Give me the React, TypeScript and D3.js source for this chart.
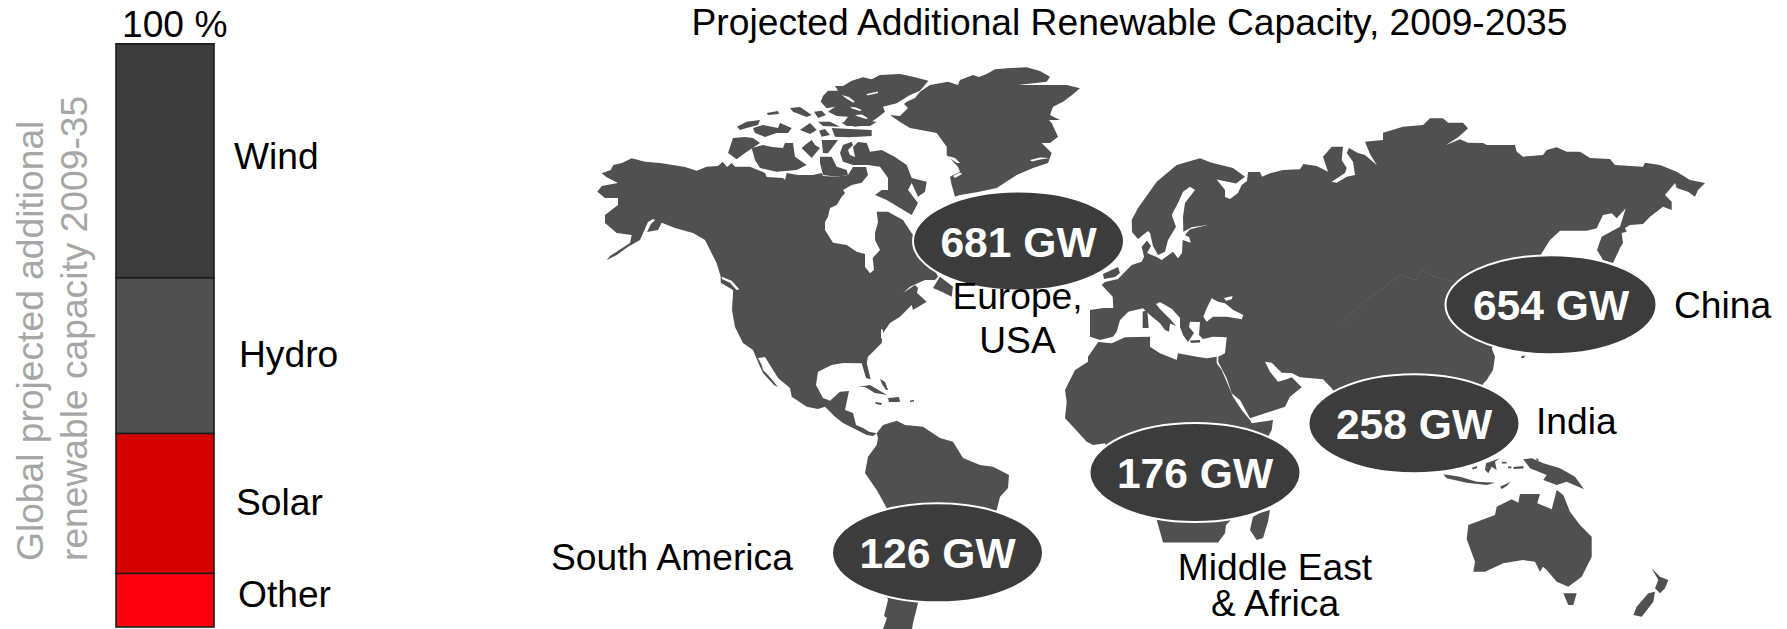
import React from "react";
import * as d3 from "d3";

// Share of global projected additional renewable capacity, in percent, bottom to top
const technologies = ["Other", "Solar", "Hydro", "Wind"];
const technologyShares = [9.2, 24.0, 26.7, 40.1];

// Regional additions, in GW
const regionCapacity = [681, 654, 258, 176, 126];
const regionNames = [["Europe,", "USA"], ["China"], ["India"], ["Middle East", "& Africa"], ["South America"]];

type Ring = [number, number][];

// Land outlines, in map units
const northAmerica: Ring = [[601.7,173.3],[610.7,170],[613.3,165],[622,163],[631.7,158.3],[645,161.7],[660,163],[673,165],[685,167],[696.7,170.7],[706.7,166.7],[718,166],[722.7,161.7],[727,167],[731.7,163],[735,166.7],[750,166.7],[765,173],[766.7,177],[783,178],[785,180],[786.7,173],[798,175],[813,175],[821.7,173],[823,176],[836.7,176.7],[848,175],[853,167],[866,167],[868,175],[861.7,182.7],[851.7,185],[843,190],[845,193],[841.7,196.7],[836.7,205],[830,208],[828,216.7],[825,222],[825,230],[833,242.7],[846.7,245],[856.7,251.7],[865,254],[865,266.7],[870,273.3],[874,270],[872.7,258],[880,250],[875,240],[875,233],[878,222],[876.7,211.7],[888,211.7],[903,220],[911.7,233.3],[925,250],[938,276.7],[935,280],[925,280],[910,286.7],[903,293],[915,285],[918,288],[917,293],[926.7,301.7],[913,310],[911.7,305],[900,316.7],[890,323],[883,333],[881.7,343],[868,356.7],[866.7,363],[870.7,379.3],[866,378],[861.7,363.3],[843,363],[831.7,365],[818,371.7],[816,385],[823,398],[830,400.7],[840,391.7],[849,391],[845,410],[853,413],[856,425],[863,428],[869,431.7],[876.7,433.3],[873,436],[866.7,435],[855,429],[843,423],[835,416.7],[825,406.7],[818,409],[806.7,406.7],[791.7,396.7],[790,388],[778,378],[765,357],[758,358],[761.7,365],[763,370],[768,375],[778,387],[774,385],[763,373],[758,362],[753,350],[743,343],[735,327],[732,310],[733,293.3],[733,290],[720.7,282.7],[720.7,276.7],[716.7,263.3],[705,240],[693,233],[675,228],[661.7,222.7],[658,230],[647,232],[651,224],[655,220],[653,219],[648,222],[644,231],[640,240],[628,246.7],[616.7,255],[606.7,260],[610,256],[630,243],[631.7,235],[616.7,233],[605,223],[605,215],[618,205],[618,198],[605,198],[597.3,191.7],[601.7,186],[618,183],[606.7,177.3]];
const greenland: Ring = [[930,85],[948,81.7],[958,85],[960,80],[973,75],[979,77],[986.7,74],[995,69.3],[1010,68],[1026.7,67.3],[1040,71],[1050,76.7],[1046.7,81.7],[1018,85],[1045,85],[1066.7,85],[1080,88.3],[1072,95],[1063,101.7],[1053,106.7],[1050,115],[1060,120],[1049,120],[1055,127],[1051.7,123],[1058,136.7],[1050,143],[1041.7,143],[1051.7,153],[1048,163],[1033,168],[1016.7,175],[996.7,188],[978,192],[960,195],[955,196.7],[951.7,185],[950,176.7],[960,171.7],[958,166.7],[946.7,155],[946.7,146.7],[936.7,133],[910,128],[900,122],[890,115],[900,116],[908,108],[904,104],[906.7,101.7],[915,98],[920,91.7]];
const arcticIslands: Ring[] = [
  [[928.3,80.7],[913,76.7],[900,74],[880,75],[871.7,79.3],[863,77.3],[851.7,80.7],[843,86],[835,86],[838,90.7],[828,90.7],[823,96],[820.7,101.7],[826.7,108.3],[835,106.7],[828,111.7],[836.7,116],[848,116.7],[843,123.3],[855,126.7],[866.7,125],[876.7,118.3],[885,111.7],[883,106.7],[896.7,103.3],[910,95],[920,90.7]],
  [[733,138],[745,137],[753,138],[760,143],[745,153],[736.7,159.3],[728,153]],
  [[751.7,148],[763,145],[772,147],[783,148],[785,143],[793,143],[795,156.7],[806.7,165],[796.7,170],[776.7,171.7],[760,168],[755,160]],
  [[801.7,148.3],[805,145],[811.7,140],[815,145],[820,148],[811.7,158],[806.7,153]],
  [[821.7,140],[838,140],[828,153.3],[823,153]],
  [[820,156.7],[831.7,156.7],[836.7,166.7],[846.7,170],[848,175],[836.7,176.7],[823,175],[820,163]],
  [[840,153],[843,145],[851.7,141.7],[853,145],[848,150],[850,155],[855,157],[853,147],[858,142],[866.7,143],[870,151.7],[881.7,150],[895,157],[906.7,165],[911.7,178],[926.7,181.7],[925,191.7],[918,196.7],[911.7,183],[908,190],[918,203],[911.7,215],[900,208],[886.7,200],[875,195],[881.7,190],[888,190],[888,178],[880,166.7],[868,165],[853,165],[843,161.7]],
  [[766.7,113],[778,111],[779,114],[768,115]],
  [[790,108],[800,107],[811.7,115],[806.7,117],[793,111.7]],
  [[814,111.7],[821.7,110.7],[826,115],[818,118]],
  [[737,126.7],[746.7,121.7],[760,120],[758,125],[746.7,128],[740,130]],
  [[753,128],[763,125],[778,128],[780,123],[791.7,128],[788,133],[776.7,133],[765,137],[755,133]],
  [[800,130],[810,123],[816.7,130],[810,134]],
  [[819,130.7],[825,129],[830,135],[821.7,136.7]],
  [[831.7,128],[850,129],[871.7,130],[871.7,136],[850,137.3],[835,136.7]],
  [[818,121.7],[830,121.7],[840,126.7],[823,126]],
  [[841.7,122.7],[856.7,120],[876.7,121.7],[870,126],[846.7,126]],
  [[933,288],[940,276.7],[953,286.7],[951.7,296.7],[941.7,291.7]],
];
const caribbean: Ring[] = [
  [[858,387],[870,385],[887,395],[875,393],[865,387]],
  [[880,379],[885,382],[888,390],[886,390],[882,384]],
  [[888,398],[899,397],[900,402],[889,402]],
  [[875,402],[882,403],[881,405],[876,404]],
  [[910,400.5],[914,400],[914,401.5],[910,402]],
];
const southAmerica: Ring = [[876.7,433.3],[883,425],[896.7,420.7],[905,425],[923,426.7],[940,438],[953,441.7],[963,458],[980,465],[993,466.7],[1009,475],[1008,488],[1000,496.7],[996.7,510],[960,560],[918,603],[913,623],[912,629],[883,629],[887,618],[884,616],[888,600],[870,540],[886.7,508],[876.7,490],[865,473],[868,456.7],[876.7,445],[878,438]];
const eurasia: Ring = [[1100,340],[1090,336.7],[1090,310],[1103,308],[1113.3,308],[1112.7,296.7],[1101.7,285],[1105,282],[1118,279],[1131.7,265],[1141.7,261.7],[1144,256.7],[1141.7,246.7],[1147,240.5],[1151,246],[1147,253],[1156.7,257],[1161.7,260],[1173,251.7],[1178,258.3],[1182,253],[1182.7,240],[1190.7,242.7],[1189.3,237.3],[1185,235],[1190,229.3],[1207.3,225],[1191.7,227.3],[1183.3,231.7],[1183,216.7],[1185,203],[1195,190],[1190,186.7],[1183,191.7],[1178,203],[1171.7,215],[1176,226.7],[1168,240],[1165,251.7],[1158,255],[1153,246],[1150,233],[1148,231],[1138,239],[1132,232],[1131.7,220],[1138,208],[1156.7,181.7],[1176.7,165],[1200,158.3],[1211.7,162.7],[1233,168],[1245,176.7],[1236,183.5],[1216.7,179.5],[1225,190],[1225,197],[1230,199],[1238,193],[1241.7,185],[1247,181],[1248,172],[1260,172],[1262,176.7],[1258,178.5],[1270,173.3],[1283,170],[1300,169.3],[1303.3,164],[1316.7,166],[1328,171.7],[1323,156.7],[1331.7,146.7],[1343,146.7],[1341.7,160],[1346.7,168],[1345,173],[1331.7,181.7],[1336.7,182.7],[1346.7,176.7],[1355,175],[1353,161.7],[1346.7,153],[1349,148],[1358,153],[1365,155],[1376.7,165],[1370,154],[1365,141.7],[1383,140],[1383,132.7],[1403,126.7],[1423,125],[1430,118.3],[1443,118.3],[1448,122.7],[1463,122.7],[1468,128.3],[1463,133],[1456.7,138.3],[1446,145],[1460,139.3],[1468,142.7],[1483,143],[1486.7,145],[1515,145],[1516.7,151.7],[1523,156.7],[1543,155],[1546.7,150],[1556.7,147.3],[1566.7,151.7],[1580,151.7],[1590,158],[1610,159],[1615,165],[1643,166.7],[1645,162.7],[1660,165],[1676.7,171.7],[1690,180],[1705,183],[1698,190],[1695,196.7],[1688,191.7],[1676.7,188],[1675,183],[1665,195],[1671.7,201.7],[1671.7,210],[1663,206.7],[1650,216.7],[1643,224],[1630,225],[1625,228],[1626.7,231.7],[1621.7,233],[1623,243],[1620,248],[1613,263],[1603,260],[1597,250],[1601.7,236.7],[1620,226.7],[1625.7,208.3],[1616.7,218.3],[1611.7,213.3],[1603,215],[1596.7,228.3],[1586.7,230.7],[1560,230.7],[1550,240],[1541.7,253.3],[1530,280],[1510,330],[1491.7,348.3],[1495,356.7],[1493,370],[1486.7,380],[1450,420],[1420,440],[1400,440],[1340,400],[1331.7,388.3],[1323,379.3],[1300,377.3],[1291.7,373],[1281.7,372.7],[1271.7,362.7],[1265,361.7],[1270,371.7],[1278,381.7],[1286.7,379.3],[1291.7,377.3],[1301.7,387.3],[1290,396.7],[1285,406.7],[1265,413.3],[1250,418.3],[1240,400],[1231.7,393.3],[1226.7,378.3],[1218.3,362],[1218.3,356.7],[1225,353.3],[1226.7,337.3],[1213,336.7],[1203,339],[1199,335],[1200,322],[1190,321.7],[1189,327],[1194,333],[1188,342],[1183,335],[1180,327],[1180,318],[1172,309],[1160,302],[1156,304],[1160,309],[1170,319],[1176,326],[1170,323.5],[1169,331.7],[1165,330],[1160,323.3],[1150,315],[1143,308.3],[1128.3,311.7],[1120,320],[1116.7,331.7],[1113,336.7]];
const europeIslands: Ring[] = [
  [[1103,274],[1118,267],[1120,273],[1115,277],[1104,279]],
  [[1142.7,311.7],[1147.3,310],[1148.7,328],[1142.7,328]],
  [[1190,340.5],[1200,340],[1200,342.5],[1191,343]],
];
const africa: Ring = [[1098.3,342],[1111.7,343.3],[1125,337.3],[1150,336.7],[1150,346.7],[1160,353.3],[1176.7,360],[1178,353.3],[1196.7,356.7],[1206.7,358.3],[1216.7,356.7],[1216.7,363.3],[1221.7,370],[1233,396.7],[1241.7,410],[1250,420],[1251.7,423.3],[1273,420],[1271.7,430],[1268,436.7],[1270,480],[1226,525],[1225,533.3],[1218,542.5],[1163,542.5],[1156.7,520],[1120,480],[1105,443.3],[1093,445],[1086.7,441.7],[1073,426.7],[1065,418.3],[1066.7,401.7],[1065,390],[1075,370],[1088,361.7],[1088,356.7]];
const madagascar: Ring = [[1270,510],[1268,521.7],[1263,538],[1256.7,540],[1250,530],[1253,516.7],[1260,513]];
const australia: Ring = [[1468.3,525],[1481.7,520],[1495,515],[1496.7,506.7],[1511.7,499.3],[1518.3,502.7],[1520,494],[1540,494],[1537.3,503.3],[1551.7,509.3],[1556.7,490],[1563.3,495],[1570,511.7],[1580,525],[1591.7,536.7],[1591.7,556.7],[1581.7,576.7],[1568.3,586.7],[1556.7,581.7],[1546.7,570],[1543,566.7],[1540,571.7],[1535,561.7],[1523,560],[1503.3,563.3],[1485,571.7],[1473.3,571.7],[1475,561.7],[1466.7,539.3]];
const oceaniaIslands: Ring[] = [
  [[1563.3,593.3],[1576.7,593.3],[1573.3,605],[1568.3,605]],
  [[1651.7,568.3],[1660,576.7],[1668.3,580],[1665,588.3],[1660,593.3],[1655,588.3],[1658.3,580]],
  [[1648.3,593.3],[1655,591.7],[1653.3,601.7],[1641.7,616.7],[1633.3,615],[1636.7,606.7]],
  [[1523.3,459.3],[1531.7,458.3],[1543.3,463.3],[1560,468.3],[1575,476.7],[1584,489.3],[1566.7,481.7],[1556.7,485],[1543.3,480],[1546.7,475],[1530,468.3]],
  [[1443.3,474.3],[1460,476.7],[1476.7,481.7],[1495,482.7],[1486.7,485],[1466.7,482.7],[1446.7,478.3]],
  [[1500,486.7],[1510.7,481.7],[1506.7,486],[1501.7,489]],
  [[1486,463.3],[1500,458.3],[1495,461.7],[1496.7,470],[1491.7,466.7],[1488.3,473.3],[1485,470]],
  [[1501.7,461.7],[1506.7,462],[1506.7,463.5],[1502,463.5]],
  [[1508.3,466],[1511.7,467],[1511,468.5],[1508,468]],
  [[1513.3,467],[1523.3,466],[1523.5,468.5],[1514,469]],
  [[1471.7,468],[1477,466],[1477,468],[1473,469.5]],
  [[1536.7,458.3],[1539,460],[1538,461],[1536,459.5]],
  [[1521.7,356],[1525,355.5],[1524,358],[1521,358]],
];
// Enclosed water bodies and narrow fjords cut out of the land fill
const innerSeas: Ring[] = [
  [[1203.3,316.7],[1206.7,308.3],[1211.7,298.3],[1218,301.7],[1225,303.3],[1233.3,310],[1243.3,315],[1241.7,319.3],[1226.7,316.7],[1213,316.7],[1206.7,321.7]],
  [[1224,298],[1232.7,296],[1231.7,299.3],[1226,300.7]],
  [[721.7,276.7],[731.7,280.7],[739.3,289.3],[736.7,290],[730,282.7],[722,279]],
  [[705,250],[707.3,250.7],[710,256.7],[707.7,256]],
  [[881,329],[883,330],[883,340],[881,338]],
  [[841.7,95],[849,97],[855,101.7],[853,102.5],[847,99]],
  [[866.7,94],[878,91.5],[878,93],[867,95.5]],
  [[850,106.7],[856,107.5],[861.7,110],[860,111],[852,108.5]],
  [[855,115],[862,114.5],[868,118.3],[866,119],[858,116.5]],
  [[1030,160],[1040,157.5],[1050,158],[1040,159.5],[1032,161.5]],
  [[948,156],[955,158],[960,163],[957,163],[950,158.5]],
  [[953,176],[960,172.5],[962,174],[955,178]],
];
// Faint international border across central Asia
const borderTrace: Ring = [[1342,323],[1363.6,301.7],[1376.6,293],[1400.4,275],[1415.6,280],[1422,270],[1435,276.7],[1452.5,281.7]];

const landMasses: Ring[] = [northAmerica, greenland, ...arcticIslands, ...caribbean, southAmerica, eurasia, ...europeIslands, africa, madagascar, australia, ...oceaniaIslands];

const SANS = "'Liberation Sans', Arial, sans-serif";
const LAND = "#505050";
const BUBBLE = "#3c3c3c";
const LABEL_SIZE = 37.2;

const mapPath = d3.geoPath(d3.geoIdentity().translate([0, 0]).scale(1) as any);
const polygonPath = (ring: Ring) => mapPath({ type: "Polygon", coordinates: [[...ring, ring[0]]] } as any) ?? "";
const linePath = (ring: Ring) => mapPath({ type: "LineString", coordinates: ring } as any) ?? "";

const barColors = ["#ff0010", "#d60000", "#505050", "#3c3c3c"];
const barLabelX = [238, 236, 239, 234];
const barLabelBaseline = [606.5, 515, 367, 169];

const bubbleCentres: [number, number][] = [[1018.5, 241], [1551, 304.7], [1414, 423.7], [1195, 472.5], [937.5, 552.8]];
const regionLabels: { x: number; y: number[]; anchor: string }[] = [
  { x: 1017.5, y: [309, 353], anchor: "middle" },
  { x: 1674, y: [318], anchor: "start" },
  { x: 1536, y: [434], anchor: "start" },
  { x: 1275, y: [580, 616], anchor: "middle" },
  { x: 551, y: [570], anchor: "start" },
];

export default function App() {
  const shareY = d3.scaleLinear().domain([0, 100]).range([627, 43.8]);
  const stacked = d3.cumsum(technologyShares);

  return (
    <svg width={1787} height={629} viewBox="0 0 1787 629"
      style={{ position: "absolute", left: 0, top: 0, background: "#fff" }} fontFamily={SANS}>
      <text x={1129.5} y={35} fontSize={LABEL_SIZE} textAnchor="middle" fill="#000">
        Projected Additional Renewable Capacity, 2009-2035
      </text>

      {/* Stacked share column */}
      <text x={122} y={37} fontSize={LABEL_SIZE} fill="#000">100 %</text>
      {technologies.map((name, i) => {
        const top = shareY(stacked[i]);
        const bottom = shareY(stacked[i] - technologyShares[i]);
        return (
          <g key={name}>
            <rect x={116} y={top} width={98} height={bottom - top} fill={barColors[i]} stroke="#1c1c1c" strokeWidth={1.6} />
            <text x={barLabelX[i]} y={barLabelBaseline[i]} fontSize={LABEL_SIZE} fill="#000">{name}</text>
          </g>
        );
      })}
      <g fill="#a6a6a6" fontSize={LABEL_SIZE}>
        <text transform="translate(43,561) rotate(-90)">Global projected additional</text>
        <text transform="translate(87,561) rotate(-90)">renewable capacity 2009-35</text>
      </g>

      {/* World map */}
      <g fill={LAND}>
        {landMasses.map((ring, i) => <path key={i} d={polygonPath(ring)} />)}
      </g>
      <g fill="#fff">
        {innerSeas.map((ring, i) => <path key={i} d={polygonPath(ring)} />)}
      </g>
      <path d={linePath(borderTrace)} fill="none" stroke="#626262" strokeWidth={0.8} />

      {/* Regional capacity bubbles */}
      {regionCapacity.map((gw, i) => (
        <g key={gw}>
          <ellipse cx={bubbleCentres[i][0]} cy={bubbleCentres[i][1]} rx={105.5} ry={49.5}
            fill={BUBBLE} stroke="#fff" strokeWidth={2} />
          <text x={bubbleCentres[i][0]} y={bubbleCentres[i][1] + 15.5} fontSize={42.6} fontWeight={700}
            textAnchor="middle" fill="#fff">{gw} GW</text>
        </g>
      ))}
      {regionNames.map((lines, i) =>
        lines.map((line, j) => (
          <text key={line} x={regionLabels[i].x} y={regionLabels[i].y[j]} fontSize={LABEL_SIZE}
            textAnchor={regionLabels[i].anchor as any} fill="#000">{line}</text>
        ))
      )}
    </svg>
  );
}
